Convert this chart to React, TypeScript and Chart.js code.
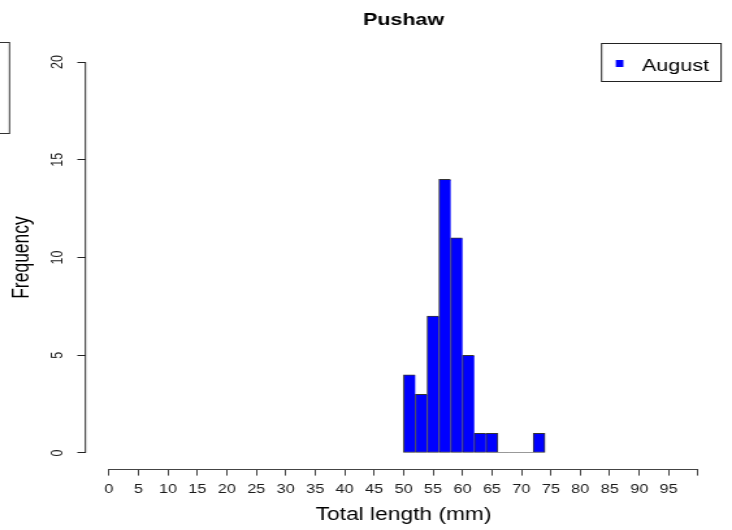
import React, { useEffect, useRef } from "react";
import { Chart, registerables } from "chart.js";

Chart.register(...registerables);

// ---- data ----
const chartTitle = "Pushaw";
const seriesLabel = "August";
const binWidth = 2;
const binMids = [51, 53, 55, 57, 59, 61, 63, 65, 67, 69, 71, 73];
const counts = [4, 3, 7, 14, 11, 5, 1, 1, 0, 0, 0, 1];
const xTickValues = [0, 5, 10, 15, 20, 25, 30, 35, 40, 45, 50, 55, 60, 65, 70, 75, 80, 85, 90, 95, 100];
const xTickLabels = ["0", "5", "10", "15", "20", "25", "30", "35", "40", "45", "50", "55", "60", "65", "70", "75", "80", "85", "90", "95", ""];
const yTickValues = [0, 5, 10, 15, 20];
const xAxisTitle = "Total length (mm)";
const yAxisTitle = "Frequency";

// The reference is horizontally stretched; draw in a narrower canvas and stretch by CSS.
const DISPLAY_W = 732;
const H = 530;
const SX = 1.3;
const W = Math.round(DISPLAY_W / SX);
const FONT = "'Liberation Sans', Arial, Helvetica, sans-serif";
const BAR_COLOR = "#0000FF";

const decorPlugin = {
  id: "decor",
  afterDraw(chart: any) {
    const ctx = chart.ctx;
    const xs = chart.scales.x;
    const ys = chart.scales.y;
    const ca = chart.chartArea;
    ctx.save();
    // x axis line (0..100)
    ctx.strokeStyle = "#444";
    ctx.lineWidth = 1;
    ctx.beginPath();
    const yb = Math.round(ca.bottom) + 0.5;
    ctx.moveTo(xs.getPixelForValue(xTickValues[0]), yb);
    ctx.lineTo(xs.getPixelForValue(xTickValues[xTickValues.length - 1]), yb);
    ctx.stroke();
    // y axis line (0..20)
    ctx.strokeStyle = "#222";
    ctx.beginPath();
    const xl = ca.left;
    ctx.moveTo(xl, ys.getPixelForValue(yTickValues[0]));
    ctx.lineTo(xl, ys.getPixelForValue(yTickValues[yTickValues.length - 1]));
    ctx.stroke();
    // zero-height bins outline
    ctx.strokeStyle = "#999";
    ctx.beginPath();
    binMids.forEach((m, i) => {
      if (counts[i] === 0) {
        const y0 = Math.round(ys.getPixelForValue(0)) - 0.5;
        ctx.moveTo(xs.getPixelForValue(m - binWidth / 2), y0);
        ctx.lineTo(xs.getPixelForValue(m + binWidth / 2), y0);
      }
    });
    ctx.stroke();
    // title
    ctx.fillStyle = "#000";
    ctx.font = `bold 16.5px ${FONT}`;
    ctx.textAlign = "center";
    ctx.textBaseline = "alphabetic";
    ctx.fillText(chartTitle, (ca.left + ca.right) / 2, 25);
    // legend
    const lx0 = 601.5 / SX, lx1 = 721 / SX, ly0 = 43.5, ly1 = 81.5;
    ctx.strokeStyle = "#222";
    ctx.lineWidth = 1;
    ctx.strokeRect(lx0, ly0, lx1 - lx0, ly1 - ly0);
    ctx.fillStyle = chart.data.datasets[0].backgroundColor;
    ctx.fillRect(615.7 / SX, 60, 7.6 / SX, 7);
    ctx.fillStyle = "#000";
    ctx.font = `16.5px ${FONT}`;
    ctx.textAlign = "left";
    ctx.fillText(chart.data.datasets[0].label, 642 / SX, 70.8);
    // partial box at the left edge
    ctx.strokeStyle = "#333";
    ctx.strokeRect(-20, 42.5, 20 + 9.5 / SX, 91);
    ctx.restore();
  },
};

export default function App() {
  const ref = useRef<HTMLCanvasElement | null>(null);
  useEffect(() => {
    if (!ref.current) return;
    const data = binMids.map((m, i) => ({ x: m, y: counts[i] }));
    const chart = new Chart(ref.current, {
      type: "bar",
      data: {
        datasets: [
          {
            label: seriesLabel,
            data,
            backgroundColor: BAR_COLOR,
            borderColor: "#333",
            borderSkipped: false,
            borderWidth: (c: any) => {
              const i = c.dataIndex;
              const next = counts[i + 1];
              return { left: 1, top: 1, bottom: 1, right: next === undefined || next === 0 ? 1 : 0 };
            },
            barPercentage: 1,
            categoryPercentage: 1,
          } as any,
        ],
      },
      plugins: [decorPlugin],
      options: {
        animation: false,
        responsive: false,
        devicePixelRatio: 1,
        layout: { padding: { top: 46.4, left: 0, right: W - 721.6 / SX, bottom: 0 } },
        plugins: { legend: { display: false }, title: { display: false }, tooltip: { enabled: false } },
        scales: {
          x: {
            type: "linear",
            min: -4,
            max: 104,
            offset: false,
            grid: { offset: false, drawOnChartArea: false, drawTicks: true, tickLength: 7, color: "#444" },
            border: { display: false },
            afterBuildTicks: (s: any) => {
              s.ticks = xTickValues.map((v) => ({ value: v }));
            },
            afterFit: (s: any) => {
              s.height = H - 468.6;
            },
            ticks: {
              autoSkip: false,
              maxRotation: 0,
              minRotation: 0,
              padding: 6,
              color: "#1a1a1a",
              font: { family: FONT, size: 12.5 },
              callback: (v: any, i: number) => xTickLabels[i],
            },
            title: {
              display: true,
              text: xAxisTitle,
              color: "#000",
              font: { family: FONT, size: 17.5 },
              padding: { top: 0, bottom: 4.5 },
            },
          },
          y: {
            type: "linear",
            min: -0.8,
            max: 20.8,
            grid: { drawOnChartArea: false, drawTicks: true, tickLength: 6.2, color: "#222" },
            border: { display: false },
            afterBuildTicks: (s: any) => {
              s.ticks = yTickValues.map((v) => ({ value: v }));
            },
            afterFit: (s: any) => {
              s.width = 85.4 / SX;
            },
            ticks: {
              autoSkip: false,
              minRotation: 90,
              maxRotation: 90,
              crossAlign: "center",
              padding: 8,
              color: "#1a1a1a",
              font: { family: FONT, size: 12.5 },
              callback: (v: any) => String(v),
            },
            title: {
              display: true,
              text: yAxisTitle,
              color: "#000",
              font: { family: FONT, size: 17.5 },
              padding: { top: 6.5, bottom: 0 },
            },
          },
        },
      } as any,
    });
    return () => chart.destroy();
  }, []);
  return (
    <div style={{ position: "fixed", left: 0, top: 0, width: DISPLAY_W, height: H, background: "#fff" }}>
      <canvas ref={ref} width={W} height={H} style={{ width: DISPLAY_W + "px", height: H + "px", display: "block" }} />
    </div>
  );
}
